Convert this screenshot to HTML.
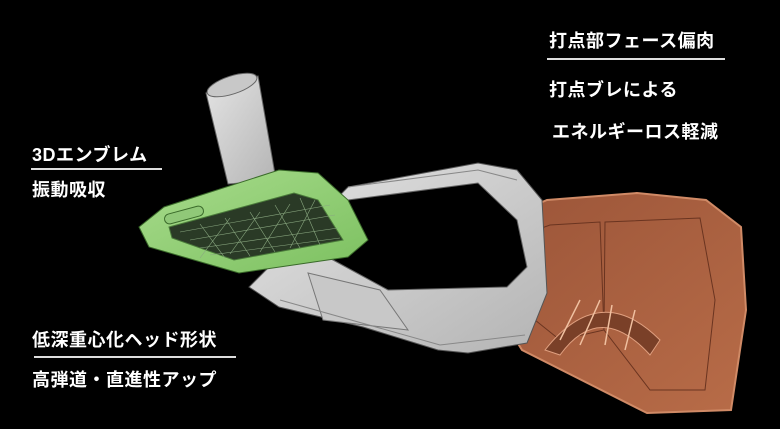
<!DOCTYPE html>
<html><head><meta charset="utf-8"><style>
html,body{margin:0;padding:0;background:#000;}
#c{position:relative;width:780px;height:429px;overflow:hidden;background:#000;}
.t{position:absolute;color:#fff;font-family:"Liberation Sans","Noto Sans CJK JP",sans-serif;font-weight:bold;font-size:18px;line-height:20px;white-space:nowrap;letter-spacing:0.5px}
.l{position:absolute;height:2px;background:#ddd}
svg{position:absolute;left:0;top:0}
</style></head><body><div id="c">
<svg width="780" height="429" viewBox="0 0 780 429">
<defs>
<linearGradient id="cu" x1="0" y1="0" x2="1" y2="1"><stop offset="0" stop-color="#9a5438"/><stop offset="1" stop-color="#b86c48"/></linearGradient>
<linearGradient id="gr" x1="0" y1="0" x2="1" y2="1"><stop offset="0" stop-color="#e4e4e4"/><stop offset="1" stop-color="#b4b4b4"/></linearGradient>
<linearGradient id="gn" x1="0" y1="0" x2="1" y2="1"><stop offset="0" stop-color="#a8dc8c"/><stop offset="1" stop-color="#7cc060"/></linearGradient>
</defs>
<!-- copper face -->
<polygon points="477,230 547,200 637,193 706,200 741,227 746,310 731,410 647,413 522,350 497,310" fill="url(#cu)" stroke="#d08a66" stroke-width="2"/>
<polygon points="495,245 550,225 600,222 604,330 560,340 510,300" fill="none" stroke="#6a3420" stroke-width="1"/>
<polygon points="605,222 700,218 715,300 705,390 650,390 604,330" fill="none" stroke="#6a3420" stroke-width="1"/>
<path d="M545,350 Q600,280 660,340 L650,355 Q600,300 560,355 Z" fill="#7a4028" stroke="#e0a080" stroke-width="1"/>
<g stroke="#f0c0a0" stroke-width="1.5"><line x1="560" y1="340" x2="580" y2="300"/><line x1="580" y1="345" x2="600" y2="300"/><line x1="605" y1="345" x2="612" y2="305"/><line x1="625" y1="350" x2="635" y2="310"/></g>
<!-- grey frame -->
<polygon points="348,187 478,163 517,170 542,200 547,293 527,343 468,353 438,350 363,327 279,307 249,287 269,267" fill="url(#gr)" stroke="#555" stroke-width="1"/>
<polygon points="348,200 478,183 517,220 527,267 507,287 388,290 333,260 308,247" fill="#000" stroke="#666" stroke-width="1"/>
<polygon points="308,273 380,290 408,330 323,320" fill="#c8c8c8" stroke="#777" stroke-width="1"/>
<polyline points="348,187 478,170 517,180" fill="none" stroke="#888"/>
<polyline points="280,300 440,345 525,335" fill="none" stroke="#888"/>
<!-- hosel -->
<polygon points="206,93 258,76 276,180 228,184" fill="url(#gr)" stroke="#666"/>
<ellipse cx="232" cy="85" rx="26" ry="9" transform="rotate(-18 232 85)" fill="#c8c8c8" stroke="#666"/>
<!-- green emblem -->
<polygon points="139,227 164,207 279,170 318,173 348,200 368,240 348,257 239,273 149,247" fill="url(#gn)" stroke="#3a6a2a" stroke-width="1"/>
<polygon points="169,227 294,193 318,200 343,240 234,260 172,238" fill="#2a3a26" stroke="#4a7a3a"/>
<g stroke="#8aa880" stroke-width="0.6" fill="none">
<path d="M180,232 L330,205 M190,240 L335,215 M200,248 L338,228 M210,255 L340,238"/>
<path d="M200,224 L225,258 M225,218 L250,256 M250,212 L275,252 M275,205 L300,248 M300,198 L320,245"/>
<path d="M200,258 L230,218 M230,254 L260,212 M260,252 L290,204 M290,248 L315,200"/>
</g>
<rect x="164" y="210" width="40" height="10" rx="5" transform="rotate(-15 184 215)" fill="#90c878" stroke="#3a6a2a"/>
</svg>
<div class="t" style="left:549px;top:31px">打点部フェース偏肉</div>
<div class="l" style="left:547px;top:58px;width:178px"></div>
<div class="t" style="left:549px;top:80px">打点ブレによる</div>
<div class="t" style="left:552px;top:122px">エネルギーロス軽減</div>
<div class="t" style="left:32px;top:145px">3Dエンブレム</div>
<div class="l" style="left:31px;top:168px;width:131px"></div>
<div class="t" style="left:32px;top:180px">振動吸収</div>
<div class="t" style="left:32px;top:330px">低深重心化ヘッド形状</div>
<div class="l" style="left:34px;top:356px;width:202px"></div>
<div class="t" style="left:32px;top:370px">高弾道・直進性アップ</div>
</div></body></html>
